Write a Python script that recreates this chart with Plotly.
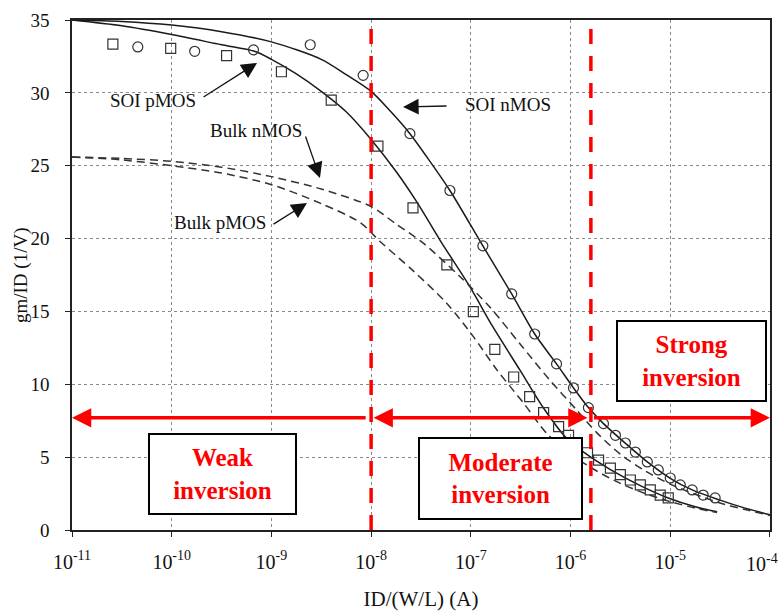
import plotly.graph_objects as go

# ---------------- data ----------------
soi_n_id = [1e-11, 3.16e-11, 1e-10, 3.16e-10, 1e-9, 3.16e-9, 5.62e-9, 1e-8, 1.58e-8, 2.45e-8,
            3.89e-8, 6.17e-8, 1.32e-7, 2.57e-7, 4.37e-7, 7.24e-7, 1.07e-6, 1.51e-6, 2.14e-6,
            3.55e-6, 5.89e-6, 1e-5, 1.66e-5, 3.16e-5, 5.62e-5, 1e-4]
soi_n_gm = [35.0, 34.9, 34.65, 34.2, 33.5, 32.3, 31.25, 30.1, 28.7, 27.2,
            25.3, 23.3, 19.5, 16.2, 13.45, 11.4, 9.75, 8.4, 7.3,
            5.95, 4.67, 3.55, 2.75, 2.05, 1.5, 1.05]

soi_p_id = [1e-11, 3.16e-11, 1e-10, 3.16e-10, 6.76e-10, 1e-9, 1.78e-9, 3.16e-9, 5.62e-9, 1e-8,
            1.78e-8, 2.88e-8, 4.9e-8, 9.77e-8, 1.66e-7, 3.09e-7, 5.25e-7, 9.12e-7, 1.48e-6,
            2.51e-6, 5.01e-6, 9.55e-6, 1.78e-5, 2.95e-5]
soi_p_gm = [35.0, 34.6, 34.0, 33.3, 32.85, 32.3, 31.3, 30.1, 28.7, 26.8,
            24.6, 22.5, 19.9, 16.7, 13.95, 11.0, 8.46, 6.3, 5.15,
            4.15, 3.05, 2.2, 1.6, 1.25]

bulk_n_id = [1e-11, 3.16e-11, 1e-10, 3.16e-10, 1e-9, 3.16e-9, 1e-8, 1.78e-8, 3.31e-8, 7.76e-8,
             1.55e-7, 3.09e-7, 6.17e-7, 1.15e-6, 1.82e-6, 3.16e-6, 5.62e-6, 1e-5, 1.78e-5,
             3.16e-5, 5.62e-5, 1e-4]
bulk_n_gm = [25.6, 25.5, 25.3, 24.9, 24.25, 23.4, 22.2, 21.0, 19.7, 17.4,
             15.3, 12.8, 10.3, 8.24, 6.7, 5.2, 4.05, 3.15, 2.45,
             1.85, 1.4, 1.0]

bulk_p_id = [1e-11, 3.16e-11, 1e-10, 3.16e-10, 1e-9, 3.16e-9, 7.76e-9, 1.23e-8, 2.63e-8, 5.75e-8,
             1.06e-7, 1.82e-7, 3.39e-7, 5.75e-7, 1e-6, 1.78e-6, 3.16e-6, 5.62e-6, 1e-5,
             1.78e-5, 2.95e-5]
bulk_p_gm = [25.6, 25.4, 25.0, 24.5, 23.7, 22.4, 21.1, 19.8, 17.8, 15.55,
             13.27, 11.0, 8.7, 6.64, 5.2, 4.1, 3.2, 2.5, 1.95,
             1.5, 1.2]

meas_n_id = [4.57e-11, 1.70e-10, 6.61e-10, 2.45e-9, 8.32e-9, 2.45e-8, 6.17e-8, 1.32e-7, 2.57e-7,
             4.37e-7, 7.24e-7, 1.07e-6, 1.51e-6, 2.14e-6, 2.82e-6, 3.55e-6, 4.47e-6, 5.89e-6,
             7.59e-6, 1e-5, 1.26e-5, 1.66e-5, 2.14e-5, 2.82e-5]
meas_n_gm = [33.15, 32.85, 32.95, 33.3, 31.2, 27.2, 23.3, 19.5, 16.2,
             13.45, 11.4, 9.75, 8.4, 7.3, 6.5, 5.97, 5.35, 4.67,
             4.12, 3.57, 3.09, 2.75, 2.4, 2.2]

meas_p_id = [2.57e-11, 9.77e-11, 3.55e-10, 1.26e-9, 3.98e-9, 1.17e-8, 2.63e-8, 5.75e-8, 1.06e-7,
             1.74e-7, 2.69e-7, 3.89e-7, 5.37e-7, 7.59e-7, 9.55e-7, 1.48e-6, 1.91e-6, 2.51e-6,
             3.16e-6, 3.98e-6, 5.01e-6, 6.31e-6, 7.94e-6, 9.55e-6]
meas_p_gm = [33.35, 33.05, 32.55, 31.45, 29.5, 26.35, 22.1, 18.2, 14.98,
             12.4, 10.5, 9.15, 8.05, 7.1, 6.5, 5.3, 4.8, 4.25,
             3.8, 3.43, 3.09, 2.75, 2.4, 2.2]

region_bounds = [1e-8, 1.6e-6]      # weak/moderate and moderate/strong borders
y_span = [0, 35]

x_ticks = [1e-11, 1e-10, 1e-9, 1e-8, 1e-7, 1e-6, 1e-5, 1e-4]
x_tick_labels = ["10<sup>-11</sup>", "10<sup>-10</sup>", "10<sup>-9</sup>", "10<sup>-8</sup>",
                 "10<sup>-7</sup>", "10<sup>-6</sup>", "10<sup>-5</sup>", "10<sup>-4</sup>"]
y_ticks = [0, 5, 10, 15, 20, 25, 30, 35]

SERIF = "Liberation Serif, Times New Roman, serif"
LINE = "#1a1a1a"
RED = "#ff0000"

fig = go.Figure()

fig.add_trace(go.Scatter(x=soi_n_id, y=soi_n_gm, mode="lines",
                         line=dict(color=LINE, width=1.5, shape="spline", smoothing=0.8),
                         showlegend=False))
fig.add_trace(go.Scatter(x=soi_p_id, y=soi_p_gm, mode="lines",
                         line=dict(color=LINE, width=1.5, shape="spline", smoothing=0.8),
                         showlegend=False))
fig.add_trace(go.Scatter(x=bulk_n_id, y=bulk_n_gm, mode="lines",
                         line=dict(color="#333333", width=1.5, dash="8px,5px",
                                   shape="spline", smoothing=0.8), showlegend=False))
fig.add_trace(go.Scatter(x=bulk_p_id, y=bulk_p_gm, mode="lines",
                         line=dict(color="#333333", width=1.5, dash="8px,5px",
                                   shape="spline", smoothing=0.8), showlegend=False))
fig.add_trace(go.Scatter(x=meas_n_id, y=meas_n_gm, mode="markers",
                         marker=dict(symbol="circle-open", size=10, color="#333333",
                                     line=dict(width=1.2)), showlegend=False))
fig.add_trace(go.Scatter(x=meas_p_id, y=meas_p_gm, mode="markers",
                         marker=dict(symbol="square-open", size=10, color="#333333",
                                     line=dict(width=1.2)), showlegend=False))

for xb in region_bounds:
    fig.add_trace(go.Scatter(x=[xb, xb], y=y_span, mode="lines",
                             line=dict(color=RED, width=3.5, dash="15px,12px"),
                             showlegend=False, hoverinfo="skip"))

ann = []
# black pointer arrows for labels (log10 x coordinates)
for (tx, ty, hx, hy) in [(-9.696, 29.65, -9.144, 32.05),
                         (-8.663, 27.11, -8.513, 24.16),
                         (-8.994, 20.93, -8.643, 22.44),
                         (-7.229, 29.10, -7.68, 29.03)]:
    ann.append(dict(x=hx, y=hy, ax=tx, ay=ty, xref="x", yref="y", axref="x", ayref="y",
                    text="", showarrow=True, arrowhead=2, arrowsize=2.4, arrowwidth=1.3,
                    arrowcolor="#111111", standoff=0))
for (txt, tx, ty) in [("SOI pMOS", -10.19, 29.5), ("Bulk nMOS", -9.154, 27.45),
                      ("Bulk pMOS", -9.515, 21.07), ("SOI nMOS", -6.627, 29.17)]:
    ann.append(dict(x=tx, y=ty, xref="x", yref="y", text=txt, showarrow=False,
                    font=dict(family=SERIF, size=19, color="#111111")))

# red region arrows
ARR_Y = 7.7
ann.append(dict(x=-11.0, y=ARR_Y, ax=-8.04, ay=ARR_Y, xref="x", yref="y", axref="x", ayref="y",
                text="", showarrow=True, arrowhead=2, arrowsize=1.1, arrowwidth=3.5,
                arrowcolor=RED, standoff=0))
ann.append(dict(x=-5.83, y=ARR_Y, ax=-7.99, ay=ARR_Y, xref="x", yref="y", axref="x", ayref="y",
                text="", showarrow=True, arrowhead=2, arrowsize=1.1, arrowwidth=3.5,
                arrowside="end+start", startarrowhead=2, startarrowsize=1.1,
                arrowcolor=RED, standoff=0, startstandoff=0))
ann.append(dict(x=-4.0, y=ARR_Y, ax=-5.78, ay=ARR_Y, xref="x", yref="y", axref="x", ayref="y",
                text="", showarrow=True, arrowhead=2, arrowsize=1.1, arrowwidth=3.5,
                arrowcolor=RED, standoff=0))

# region boxes
for (txt, cx, cy, w, h) in [("Weak<br>inversion", -9.49, 3.84, 149, 82),
                            ("Moderate<br>inversion", -6.702, 3.53, 165, 83),
                            ("Strong<br>inversion", -4.786, 11.6, 151, 82)]:
    ann.append(dict(x=cx, y=cy, xref="x", yref="y", text="<b>" + txt + "</b>", showarrow=False,
                    width=w - 4, height=h - 4, borderpad=0, borderwidth=2, bordercolor="#000000",
                    bgcolor="white", align="center", valign="middle",
                    font=dict(family=SERIF, size=25, color=RED)))

# y-axis title (placed as rotated text to match the reference position)
ann.append(dict(x=-0.073, y=0.5, xref="paper", yref="paper", text="gm/ID (1/V)",
                textangle=-90, showarrow=False, xanchor="center", yanchor="middle",
                font=dict(family=SERIF, size=19, color="#111111")))
# last x tick label, kept inside the page like in the reference
ann.append(dict(x=1.0143, y=0, xref="paper", yref="paper", text=x_tick_labels[-1],
                showarrow=False, xanchor="right", yanchor="top", yshift=-19,
                font=dict(family=SERIF, size=20, color="#111111")))

fig.update_layout(
    width=780, height=611,
    margin=dict(l=72, r=10, t=20, b=81, autoexpand=False),
    paper_bgcolor="white", plot_bgcolor="white",
    showlegend=False,
    annotations=ann,
    xaxis=dict(type="log", range=[-11, -3.9995], tickvals=x_ticks,
               ticktext=x_tick_labels[:-1] + [""],
               showgrid=True, gridcolor="#8a8a8a", griddash="dot", gridwidth=1,
               showline=True, linecolor="#222222", linewidth=1.5, mirror=True,
               ticks="outside", ticklen=5, tickcolor="#222222",
               tickfont=dict(family=SERIF, size=20, color="#111111"),
               ticklabelstandoff=8, automargin=False,
               title=dict(text="ID/(W/L) (A)", font=dict(family=SERIF, size=21, color="#111111"),
                          standoff=20),
               zeroline=False),
    yaxis=dict(range=[0, 35], tickvals=y_ticks,
               showgrid=True, gridcolor="#8a8a8a", griddash="dot", gridwidth=1,
               showline=True, linecolor="#222222", linewidth=1.5, mirror=True,
               ticks="outside", ticklen=5, tickcolor="#222222",
               tickfont=dict(family=SERIF, size=19, color="#111111"),
               ticklabelstandoff=12, automargin=False,
               zeroline=False),
)

fig.write_html("out.html")
